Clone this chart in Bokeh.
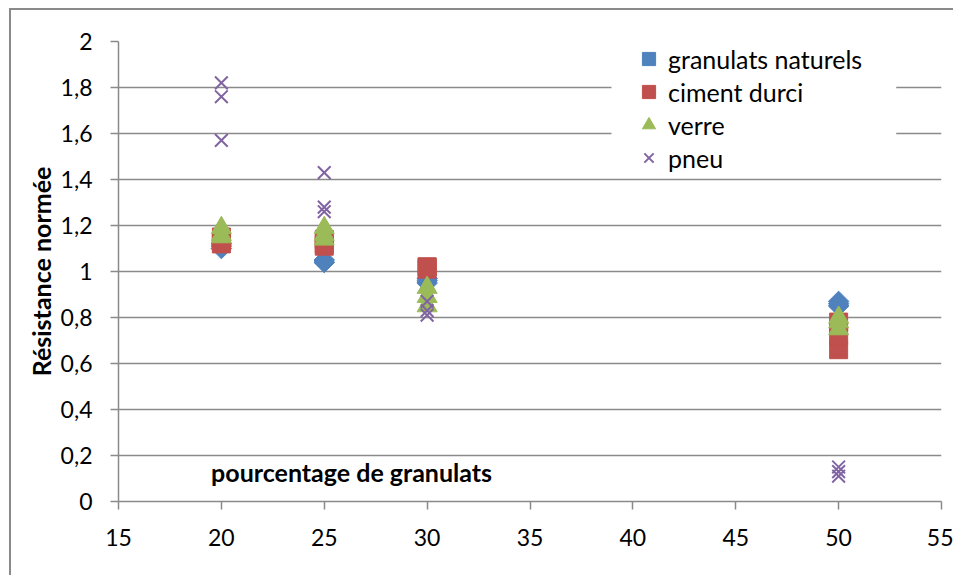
import math
from bokeh.plotting import figure
from bokeh.models import (Range1d, FixedTicker, CustomJSTickFormatter, Label,
                          Legend, LegendItem, BoxAnnotation)
from bokeh.embed import file_html
from bokeh.resources import INLINE

# ---- data ----
pourcentage = [20, 20, 20, 25, 25, 25, 30, 30, 30, 50, 50, 50]
granulats_naturels = [1.11, 1.12, 1.10, 1.04, 1.05, 1.04, 0.96, 0.95, 0.97, 0.87, 0.85, 0.86]
ciment_durci = [1.12, 1.15, 1.13, 1.11, 1.14, 1.12, 1.02, 1.01, 1.02, 0.66, 0.72, 0.78]
verre = [1.19, 1.16, 1.15, 1.19, 1.16, 1.14, 0.93, 0.89, 0.85, 0.80, 0.75, 0.78]
pneu = [1.82, 1.76, 1.57, 1.43, 1.28, 1.26, 0.87, 0.83, 0.81, 0.15, 0.13, 0.11]
x_ticks = [15, 20, 25, 30, 35, 40, 45, 50, 55]
y_ticks = [0, 0.2, 0.4, 0.6, 0.8, 1, 1.2, 1.4, 1.6, 1.8, 2]

FONT = "Lato"
GRID = "#8a8a8a"

p = figure(width=942, height=565, output_backend="svg", toolbar_location=None,
           x_range=Range1d(15, 55), y_range=Range1d(0, 2),
           min_border_left=107, min_border_right=12, min_border_top=31,
           min_border_bottom=74, outline_line_color=None)
p.frame_width = 823
p.frame_height = 460
p.styles = {"border-left": "2px solid #8a8a8a", "border-top": "2px solid #8a8a8a",
            "margin-left": "9px", "margin-top": "8px"}

p.xgrid.grid_line_color = None
p.ygrid.grid_line_color = GRID
p.ygrid.grid_line_width = 1.5
p.ygrid.ticker = FixedTicker(ticks=y_ticks)

fmt = CustomJSTickFormatter(code="return tick.toFixed(1).replace('.', ',').replace(/,0$/, '');")

for ax in (p.xaxis[0], p.yaxis[0]):
    ax.axis_line_color = GRID
    ax.axis_line_width = 1.5
    ax.major_tick_line_color = GRID
    ax.major_tick_line_width = 1.5
    ax.major_tick_in = 0
    ax.major_tick_out = 8
    ax.minor_tick_line_color = None
    ax.major_label_text_font = FONT
    ax.major_label_text_font_size = "23px"
    ax.major_label_text_color = "black"

p.xaxis.ticker = FixedTicker(ticks=x_ticks)
p.yaxis.ticker = FixedTicker(ticks=y_ticks)
p.yaxis.formatter = fmt
p.xaxis.major_label_standoff = 19
p.yaxis.major_label_standoff = 18

p.yaxis.axis_label = "Résistance normée"
p.yaxis.axis_label_text_font = FONT
p.yaxis.axis_label_text_font_style = "bold"
p.yaxis.axis_label_text_font_size = "25px"
p.yaxis.axis_label_text_color = "black"
p.yaxis.axis_label_standoff = 2

# white box behind the legend (hides grid lines like the original)
p.add_layout(BoxAnnotation(left=38.96, right=52.8, top=1.99, bottom=1.42,
                           fill_color="white", fill_alpha=1.0, line_color=None,
                           level="underlay"))

r1 = p.scatter(pourcentage, granulats_naturels, marker="square", size=14.5,
               angle=math.pi / 4, fill_color="#4F81BD", line_color="#4F81BD")
r2 = p.scatter(pourcentage, ciment_durci, marker="square", size=18,
               fill_color="#C0504D", line_color="#C0504D")
r3 = p.scatter(pourcentage, verre, marker="triangle", size=20,
               fill_color="#9BBB59", line_color="#9BBB59")
r4 = p.scatter(pourcentage, pneu, marker="x", size=18,
               line_color="#8064A2", line_width=2)

p.add_layout(Label(x=19.5, y=0.13, text="pourcentage de granulats",
                   text_font=FONT, text_font_style="bold", text_font_size="25px",
                   text_baseline="middle", text_color="black"))

legend = Legend(items=[
    LegendItem(label="granulats naturels", renderers=[r1]),
    LegendItem(label="ciment durci", renderers=[r2]),
    LegendItem(label="verre", renderers=[r3]),
    LegendItem(label="pneu", renderers=[r4]),
], location=(514, 327), label_text_font=FONT, label_text_font_size="25px",
    label_text_color="black", border_line_color=None, background_fill_color="white",
    background_fill_alpha=1.0, padding=0, spacing=0, glyph_width=33, glyph_height=33,
    label_height=33, label_standoff=3, margin=0)
p.add_layout(legend, "center")

open("out.html", "w").write(file_html(p, INLINE))
